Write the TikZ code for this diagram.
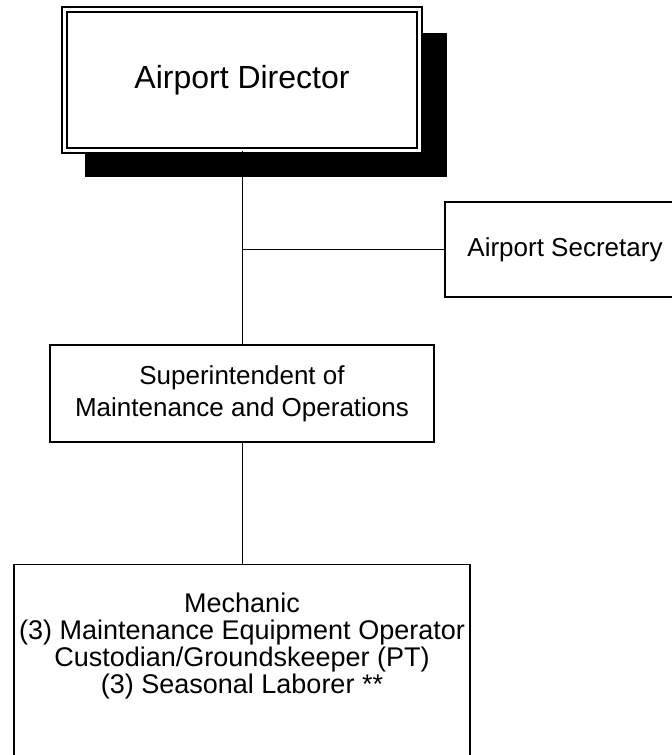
\documentclass[tikz,border=0pt]{standalone}
\usepackage{fontspec}
\setmainfont{Liberation Sans}
\usetikzlibrary{positioning,shadows}
\tikzset{
  post/.style={draw=black, line width=1.2pt, fill=white, align=center,
    inner sep=0pt, font=\fontsize{26}{32}\selectfont},
  headpost/.style={post, double=white, double distance=3.7pt, line width=1.3pt,
    font=\fontsize{32}{38}\selectfont,
    drop shadow={shadow xshift=23.5pt, shadow yshift=-24.5pt, shadow scale=1.02,
      fill=black, opacity=1}},
  link/.style={draw=black, line width=0.9pt},
}

\begin{document}
\begin{tikzpicture}[x=1pt,y=1pt]
  \useasboundingbox (0,0) rectangle (672,-755);
  \node[headpost, minimum width=355pt, minimum height=141pt] (dir) at (242,-80) {Airport Director};
  \node[post, minimum width=240pt, minimum height=95pt] (sec) at (565,-249.5) {Airport Secretary};
  \node[post, minimum width=384pt, minimum height=97pt] (sup) at (242,-393.5) {Superintendent of\\Maintenance and Operations};
  \node[post, minimum width=456pt, minimum height=220pt, anchor=north] (crew) at (242,-564) {};
  \node[align=center, inner sep=0pt, anchor=north, font=\fontsize{27}{27}\selectfont] (crewlist) at (242,-593)
    {Mechanic\\(3) Maintenance Equipment Operator\\Custodian/Groundskeeper (PT)\\(3) Seasonal Laborer **};
  \coordinate (jn) at (dir.south |- sec.west);
  \draw[link] (dir.south) -- (sup.north);
  \draw[link] (jn) -- (sec.west);
  \draw[link] (sup.south) -- (crew.north);
\end{tikzpicture}
\end{document}
